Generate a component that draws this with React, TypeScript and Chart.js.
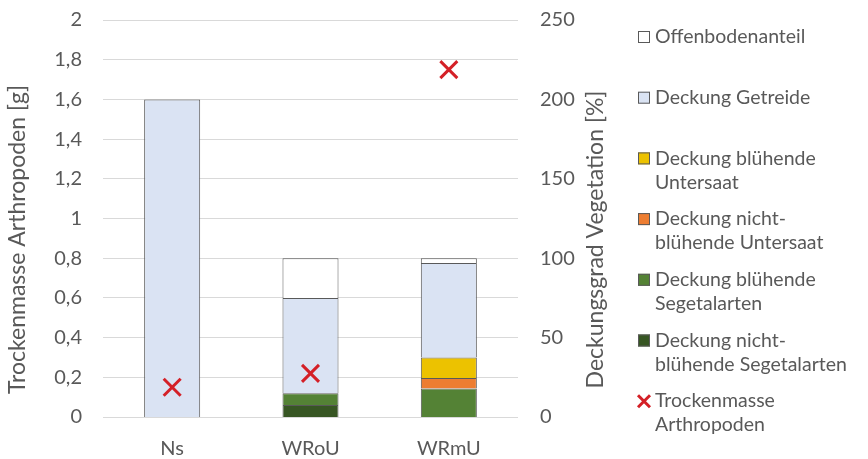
import React, { useEffect, useRef } from "react";
import { Chart, registerables } from "chart.js";

Chart.register(...registerables);

const categories = ["Ns", "WRoU", "WRmU"];
const nichtBluehendeSegetalarten = [null, 7.5, null];
const bluehendeSegetalarten = [null, 7.5, 18];
const nichtBluehendeUntersaat = [null, null, 6.5];
const bluehendeUntersaat = [null, null, 13];
const deckungGetreide = [200, 60, 59.5];
const offenbodenanteil = [null, 25, 3];
const trockenmasseArthropoden = [0.15, 0.22, 1.75];

const leftTicks = [0, 0.2, 0.4, 0.6, 0.8, 1, 1.2, 1.4, 1.6, 1.8, 2];
const rightTicks = [0, 50, 100, 150, 200, 250];

const leftTitle = "Trockenmasse Arthropoden [g]";
const rightTitle = "Deckungsgrad Vegetation [%]";

const FONT = "Lato, 'Open Sans', sans-serif";
const TEXT = "#595959";
const EDGE = "#595959";

const legendItems = [
  { lines: ["Offenbodenanteil"], color: "#ffffff", kind: "box" },
  { lines: ["Deckung Getreide"], color: "#dae3f3", kind: "box" },
  { lines: ["Deckung blühende", "Untersaat"], color: "#ecc200", kind: "box" },
  { lines: ["Deckung nicht-", "blühende Untersaat"], color: "#ed7d31", kind: "box" },
  { lines: ["Deckung blühende", "Segetalarten"], color: "#548235", kind: "box" },
  { lines: ["Deckung nicht-", "blühende Segetalarten"], color: "#375623", kind: "box" },
  { lines: ["Trockenmasse", "Arthropoden"], color: "#d42027", kind: "cross" },
];

const decorPlugin = {
  id: "decor",
  afterDraw(chart: any) {
    const ctx = chart.ctx;
    const area = chart.chartArea;
    ctx.save();
    const cy = (area.top + chart.height) / 2;
    ctx.font = `23px ${FONT}`;
    ctx.fillStyle = TEXT;
    ctx.textAlign = "center";
    ctx.textBaseline = "middle";
    const drawV = (text: string, x: number) => {
      ctx.save();
      ctx.translate(x, cy);
      ctx.rotate(-Math.PI / 2);
      ctx.fillText(text, 0, 0);
      ctx.restore();
    };
    drawV(leftTitle, area.left - 85);
    drawV(rightTitle, area.right + 78);

    const x0 = area.right + 120;
    const yStart = 37;
    const step = 60.7;
    const lineH = 24;
    ctx.font = `19.5px ${FONT}`;
    ctx.textBaseline = "middle";
    ctx.textAlign = "left";
    legendItems.forEach((it, i) => {
      const y = yStart + i * step;
      if (it.kind === "box") {
        ctx.fillStyle = it.color;
        ctx.fillRect(x0, y - 6, 12, 12);
        ctx.strokeStyle = EDGE;
        ctx.lineWidth = 1;
        ctx.strokeRect(x0 + 0.5, y - 5.5, 11, 11);
      } else {
        ctx.strokeStyle = it.color;
        ctx.lineWidth = 3;
        ctx.beginPath();
        ctx.moveTo(x0, y - 6);
        ctx.lineTo(x0 + 12, y + 6);
        ctx.moveTo(x0 + 12, y - 6);
        ctx.lineTo(x0, y + 6);
        ctx.stroke();
      }
      ctx.fillStyle = TEXT;
      it.lines.forEach((ln, j) => ctx.fillText(ln, x0 + 17, y + j * lineH));
    });
    ctx.restore();
  },
};

function barDs(label: string, data: (number | null)[], color: string) {
  return {
    type: "bar" as const,
    label,
    data,
    backgroundColor: color,
    borderColor: EDGE,
    borderWidth: 1,
    yAxisID: "y1",
    barPercentage: 0.405,
    categoryPercentage: 1,
    order: 1,
  };
}

export default function App() {
  const ref = useRef<HTMLCanvasElement>(null);
  useEffect(() => {
    document.body.style.margin = "0";
    const chart = new Chart(ref.current!, {
      data: {
        labels: categories,
        datasets: [
          {
            type: "line",
            label: "Trockenmasse Arthropoden",
            data: trockenmasseArthropoden,
            yAxisID: "y",
            showLine: false,
            pointStyle: "crossRot",
            pointRadius: 12,
            pointBorderWidth: 3,
            borderColor: "#d42027",
            backgroundColor: "#d42027",
            order: 0,
          } as any,
          barDs("Deckung nicht-blühende Segetalarten", nichtBluehendeSegetalarten, "#375623"),
          barDs("Deckung blühende Segetalarten", bluehendeSegetalarten, "#548235"),
          barDs("Deckung nicht-blühende Untersaat", nichtBluehendeUntersaat, "#ed7d31"),
          barDs("Deckung blühende Untersaat", bluehendeUntersaat, "#ecc200"),
          barDs("Deckung Getreide", deckungGetreide, "#dae3f3"),
          barDs("Offenbodenanteil", offenbodenanteil, "#ffffff"),
        ],
      },
      options: {
        animation: false,
        responsive: false,
        layout: { autoPadding: false, padding: { top: 20, right: 230, bottom: 0, left: 0 } },
        plugins: { legend: { display: false }, tooltip: { enabled: false } },
        scales: {
          x: {
            stacked: true,
            grid: { display: false },
            border: { display: false },
            ticks: { color: TEXT, font: { family: FONT, size: 20 }, padding: 12 },
            afterFit: (s: any) => { s.height = 42; },
          },
          y: {
            position: "left",
            min: 0,
            max: 2,
            afterBuildTicks: (s: any) => { s.ticks = leftTicks.map((v) => ({ value: v })); },
            ticks: {
              color: TEXT,
              font: { family: FONT, size: 20 },
              padding: 21,
              callback: (v: any) => String(v).replace(".", ","),
            },
            grid: { color: "#d9d9d9", lineWidth: 1, drawTicks: false },
            border: { display: false },
            afterFit: (s: any) => { s.width = 103; s.paddingTop = 0; s.paddingBottom = 0; },
          },
          y1: {
            position: "right",
            stacked: true,
            min: 0,
            max: 250,
            afterBuildTicks: (s: any) => { s.ticks = rightTicks.map((v) => ({ value: v })); },
            ticks: { color: TEXT, font: { family: FONT, size: 20 }, padding: 22 },
            grid: { display: false, drawTicks: false },
            border: { display: false },
            afterFit: (s: any) => { s.width = 120; s.paddingTop = 0; s.paddingBottom = 0; },
          },
        },
      },
      plugins: [decorPlugin],
    } as any);
    return () => chart.destroy();
  }, []);
  return <canvas ref={ref} width={868} height={459} style={{ display: "block" }} />;
}
